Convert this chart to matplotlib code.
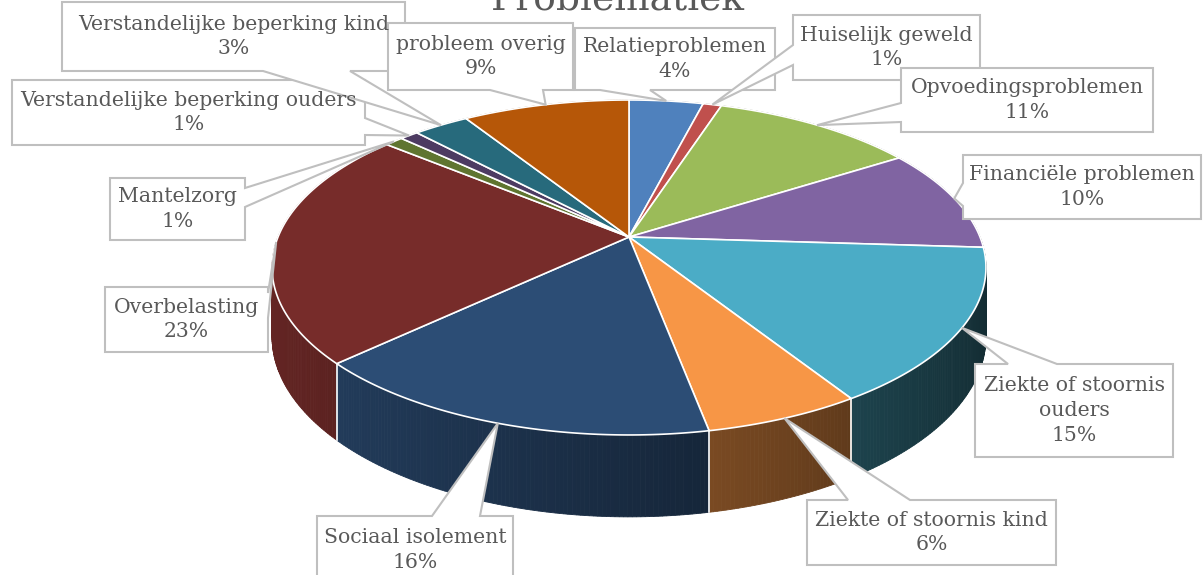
import numpy as np
import matplotlib
matplotlib.use('Agg')
import matplotlib.pyplot as plt
from matplotlib.patches import Polygon
from matplotlib.colors import to_rgb

# data
labels = ['Relatieproblemen', 'Huiselijk geweld', 'Opvoedingsproblemen',
          'Financiële problemen', 'Ziekte of stoornis\nouders',
          'Ziekte of stoornis kind', 'Sociaal isolement', 'Overbelasting',
          'Mantelzorg', 'Verstandelijke beperking ouders',
          'Verstandelijke beperking kind', 'probleem overig']
values = [4, 1, 11, 10, 15, 6, 16, 23, 1, 1, 3, 9]
colors = ['#4F81BD', '#C0504D', '#9BBB59', '#8064A2', '#4BACC6', '#F79646',
          '#2C4D75', '#772C2A', '#5F7530', '#4D3B62', '#276A7C', '#B65708']
title = 'Problematiek'

# label boxes: (x0, y0, x1, y1, side, a, b) in pixels
boxes = [
    (575, 28, 775, 90, 'bottom', 600, 650),
    (793, 15, 980, 80, 'left', 45, 65),
    (901, 68, 1153, 132, 'left', 103, 122),
    (963, 155, 1201, 219, 'left', 183, 206),
    (975, 364, 1173, 457, 'top', 1008, 1057),
    (807, 500, 1056, 565, 'top', 848, 910),
    (317, 516, 513, 590, 'top', 432, 480),
    (105, 287, 268, 352, 'right', 293, 318),
    (110, 178, 245, 240, 'right', 188, 207),
    (12, 80, 365, 145, 'right', 118, 135),
    (62, 2, 405, 71, 'bottom', 263, 350),
    (388, 23, 573, 90, 'bottom', 490, 543),
]

# pie geometry (perspective projection of a disk)
CX, CY, A, Q, K, D = 629, 237, 351, -118.8, 0.182, 67


def proj(phi, drop=0.0):
    u = np.sin(phi)
    v = np.cos(phi)
    w = 1 + K * v
    return CX + A * u / w, (CY + Q * v + drop) / w


fig = plt.figure(figsize=(12.03, 5.75), dpi=100)
ax = fig.add_axes([0, 0, 1, 1])
ax.set_xlim(0, 1203)
ax.set_ylim(575, 0)
ax.axis('off')

fracs = np.array(values, dtype=float) / sum(values)
edges = np.concatenate([[0], np.cumsum(fracs)]) * 2 * np.pi

# side walls, far to near
quads = []
for i in range(len(values)):
    n = max(int((edges[i + 1] - edges[i]) / 0.01), 2)
    ph = np.linspace(edges[i], edges[i + 1], n + 1)
    for j in range(n):
        p0, p1 = ph[j], ph[j + 1]
        xt0, yt0 = proj(p0)
        xt1, yt1 = proj(p1)
        xb0, yb0 = proj(p0, D)
        xb1, yb1 = proj(p1, D)
        pm = (p0 + p1) / 2
        f = 0.55 - 0.3 * np.sin(pm)
        c = tuple(np.clip(np.array(to_rgb(colors[i])) * f, 0, 1))
        quads.append((np.cos(pm), [(xt0, yt0), (xt1, yt1), (xb1, yb1), (xb0, yb0)], c))
quads.sort(key=lambda q: -q[0])
for _, pts, c in quads:
    ax.add_patch(Polygon(pts, closed=True, facecolor=c, edgecolor=c, lw=0.6))

# white seams between walls (only where they face the viewer)
for e in edges[:-1]:
    if np.cos(e) < -0.15:
        xt, yt = proj(e)
        xb, yb = proj(e, D)
        ax.plot([xt, xb], [yt, yb], color='white', lw=1.2)

# top faces
for i in range(len(values)):
    ph = np.linspace(edges[i], edges[i + 1], 200)
    xs, ys = proj(ph)
    pts = [(CX, CY)] + list(zip(xs, ys))
    ax.add_patch(Polygon(pts, closed=True, facecolor=colors[i],
                         edgecolor='white', lw=1.2, joinstyle='round'))

# callout labels
for i, lab in enumerate(labels):
    x0, y0, x1, y1, side, a, b = boxes[i]
    tip = proj((edges[i] + edges[i + 1]) / 2)
    if side == 'top':
        pts = [(x0, y0), (a, y0), tip, (b, y0), (x1, y0), (x1, y1), (x0, y1)]
    elif side == 'right':
        pts = [(x0, y0), (x1, y0), (x1, a), tip, (x1, b), (x1, y1), (x0, y1)]
    elif side == 'bottom':
        pts = [(x0, y0), (x1, y0), (x1, y1), (b, y1), tip, (a, y1), (x0, y1)]
    else:
        pts = [(x0, y0), (x1, y0), (x1, y1), (x0, y1), (x0, b), tip, (x0, a)]
    ax.add_patch(Polygon(pts, closed=True, facecolor='white',
                         edgecolor='#BFBFBF', lw=1.5, zorder=3))
    pct = '{:d}%'.format(int(round(fracs[i] * 100)))
    yc = (y0 + y1) / 2 if y1 <= 575 else y0 + 34
    ax.text((x0 + x1) / 2, yc, lab + '\n' + pct, ha='center', va='center',
            fontsize=14.7, family='DejaVu Serif', color='#595959',
            linespacing=1.38, zorder=4)

# title sits partly above the canvas, as in the source image
ax.text(618, 9, title, ha='center', va='baseline', fontsize=27,
        family='DejaVu Serif', color='#595959')

fig.savefig('out.png', dpi=100)
